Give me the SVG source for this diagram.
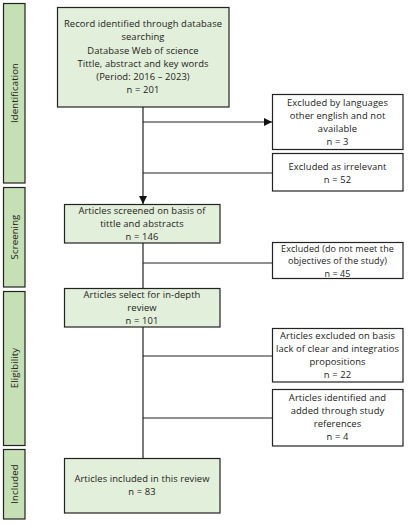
<svg xmlns="http://www.w3.org/2000/svg" width="413" height="524" viewBox="0 0 413 524">
<defs>
<style>
.side{fill:#c5e0b4;stroke:#222;stroke-width:1.2}
.gbox{fill:#e2efda;stroke:#222;stroke-width:1.2}
.wbox{fill:#ffffff;stroke:#222;stroke-width:1.2}
text{font-family:"Open Sans","Liberation Sans",Arial,sans-serif;font-size:9.4px;letter-spacing:0.1px;fill:#222;text-anchor:middle}
.sl{font-size:9.6px}
.sm{font-size:9px}
.ln{fill:none;stroke:#222;stroke-width:1.2}
</style>
<marker id="ah" viewBox="0 0 10 10" refX="10" refY="5" markerWidth="8" markerHeight="8" markerUnits="userSpaceOnUse" orient="auto">
<path d="M0,0 L10,5 L0,10 z" fill="#111"/>
</marker>
</defs>
<rect width="413" height="524" fill="#fff"/>
<g id="side-identification"><rect class="side" x="3.5" y="3.5" width="21.5" height="179.5"/><text class="sl" transform="translate(17.5,93) rotate(-90)">Identification</text></g>
<g id="side-screening"><rect class="side" x="3.5" y="187.5" width="21.5" height="99.5"/><text class="sl" transform="translate(17.5,237) rotate(-90)">Screening</text></g>
<g id="side-eligibility"><rect class="side" x="3.5" y="291.5" width="21.5" height="154"/><text class="sl" transform="translate(17.5,368) rotate(-90)">Eligibility</text></g>
<g id="side-included"><rect class="side" x="3.5" y="449.5" width="21.5" height="69.5"/><text class="sl" transform="translate(17.5,484) rotate(-90)">Included</text></g>
<g id="connectors">
<line class="ln" x1="143" y1="107" x2="143" y2="204" marker-end="url(#ah)"/>
<line class="ln" x1="143" y1="122" x2="272" y2="122" marker-end="url(#ah)"/>
<line class="ln" x1="143" y1="173" x2="272" y2="173"/>
<line class="ln" x1="143" y1="243" x2="143" y2="288"/>
<line class="ln" x1="143" y1="263" x2="272" y2="263"/>
<line class="ln" x1="143" y1="327" x2="143" y2="458"/>
<line class="ln" x1="143" y1="356" x2="272" y2="356"/>
<line class="ln" x1="143" y1="418" x2="272" y2="418"/>
</g>
<g id="n-records"><rect class="gbox" x="57.5" y="7.5" width="171.5" height="99.5"/>
<text x="143" y="27.2">Record identified through database</text>
<text x="143" y="40.4">searching</text>
<text x="143" y="53.6">Database Web of science</text>
<text x="143" y="66.8">Tittle, abstract and key words</text>
<text x="143" y="80">(Period: 2016 – 2023)</text>
<text x="143" y="93.2">n = 201</text></g>
<g id="n-languages"><rect class="wbox" x="272.5" y="94.5" width="130.5" height="55"/>
<text x="337.5" y="105.5">Excluded by languages</text>
<text x="337.5" y="118.5">other english and not</text>
<text x="337.5" y="131.5">available</text>
<text x="337.5" y="144.5">n = 3</text></g>
<g id="n-irrelevant"><rect class="wbox" x="272.5" y="153.5" width="130.5" height="37.5"/>
<text x="337.5" y="170">Excluded as irrelevant</text>
<text x="337.5" y="183">n = 52</text></g>
<g id="n-screened"><rect class="gbox" x="64.5" y="204.5" width="155.5" height="38.5"/>
<text x="142" y="214">Articles screened on basis of</text>
<text x="142" y="227">tittle and abstracts</text>
<text x="142" y="240">n = 146</text></g>
<g id="n-excluded45"><rect class="wbox" x="272.5" y="242.5" width="130.5" height="36"/>
<text class="sm" x="337.5" y="252">Excluded (do not meet the</text>
<text class="sm" x="337.5" y="264.4">objectives of the study)</text>
<text class="sm" x="337.5" y="276.8">n = 45</text></g>
<g id="n-select"><rect class="gbox" x="64.5" y="288.5" width="155.5" height="38.5"/>
<text x="142" y="298">Articles select for in-depth</text>
<text x="142" y="311">review</text>
<text x="142" y="324">n = 101</text></g>
<g id="n-excluded22"><rect class="wbox" x="272.5" y="328.5" width="130.5" height="53.5"/>
<text x="337.5" y="338.5">Articles excluded on basis</text>
<text x="337.5" y="351.5">lack of clear and integratios</text>
<text x="337.5" y="364.5">propositions</text>
<text x="337.5" y="377.5">n = 22</text></g>
<g id="n-added4"><rect class="wbox" x="272.5" y="389.5" width="130.5" height="56.5"/>
<text x="337.5" y="401">Articles identified and</text>
<text x="337.5" y="414">added through study</text>
<text x="337.5" y="427">references</text>
<text x="337.5" y="440">n = 4</text></g>
<g id="n-included"><rect class="gbox" x="64.5" y="458.5" width="155.5" height="54.5"/>
<text x="142" y="482">Articles included in this review</text>
<text x="142" y="495">n = 83</text></g>
</svg>
